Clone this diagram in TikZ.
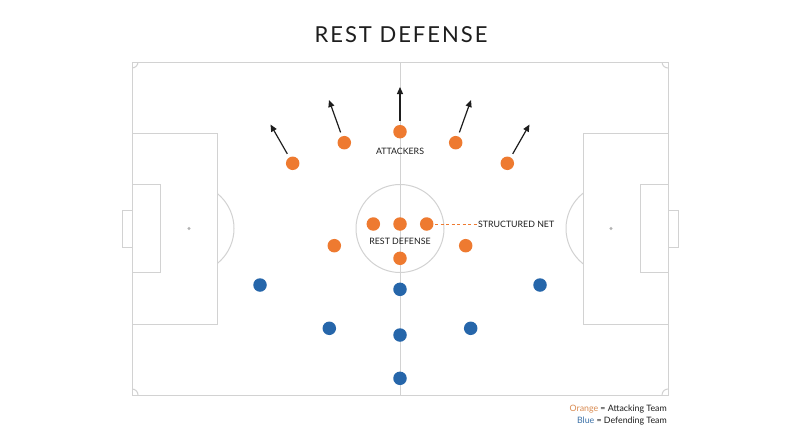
\documentclass[tikz,border=0pt]{standalone}
\usepackage{fontspec}
\setmainfont{Lato}
\newfontfamily\titlefont[LetterSpace=9]{Lato}
\usetikzlibrary{arrows.meta}
\definecolor{attack}{HTML}{EE7A30}
\definecolor{defend}{HTML}{2666AA}
\definecolor{pitch}{HTML}{D2D2D2}
\definecolor{ink}{HTML}{1E1E1E}
\definecolor{legorange}{HTML}{D98A50}
\definecolor{legblue}{HTML}{3D72A8}
\tikzset{
  line/.style={draw=pitch,line width=1pt},
  atk/.style={circle,fill=attack,minimum size=13.5pt,inner sep=0pt},
  dfn/.style={circle,fill=defend,minimum size=13.5pt,inner sep=0pt},
  run/.style={-{Triangle[length=7pt,width=6pt]},line width=1.2pt,draw=ink,shorten <=4pt},
  tag/.style={text=ink,font=\fontsize{8.8}{10}\selectfont,inner sep=0pt},
  legend/.style={text=ink,font=\fontsize{8.8}{10}\selectfont,inner sep=0pt,anchor=east}
}
\begin{document}
\begin{tikzpicture}[x=1pt,y=-1pt]
\useasboundingbox[fill=white] (0,0) rectangle (800,447);
\node[text=ink,font=\titlefont\fontsize{22}{26}\selectfont] (title) at (401,34.5) {REST DEFENSE};
\draw[line] (132,62) rectangle (668,395);
\draw[line] (400,62) -- (400,395);
\draw[line] (400,228.5) circle (44);
\draw[line] (132,133) rectangle (217,324);
\draw[line] (668,133) rectangle (583,324);
\draw[line] (132,184) rectangle (160,272);
\draw[line] (668,184) rectangle (640,272);
\draw[line] (132,210) rectangle (122,247);
\draw[line] (668,210) rectangle (678,247);
\begin{scope}
\clip (217,62) rectangle (300,395);
\draw[line] (189,228.5) circle (45);
\end{scope}
\begin{scope}
\clip (500,62) rectangle (583,395);
\draw[line] (611,228.5) circle (45);
\end{scope}
\begin{scope}
\clip (132,62) rectangle (668,395);
\draw[line] (132,62) circle (6);
\draw[line] (668,62) circle (6);
\draw[line] (132,395) circle (6);
\draw[line] (668,395) circle (6);
\end{scope}
\fill[pitch!85!black] (189,228.5) circle (1.7);
\fill[pitch!85!black] (611,228.5) circle (1.7);

\node[atk] (a1) at (292.7,163.3) {};
\node[atk] (a2) at (344.3,142.7) {};
\node[atk] (a3) at (400,131.7) {};
\node[atk] (a4) at (455.7,142.7) {};
\node[atk] (a5) at (507.3,163.3) {};
\coordinate (t1) at (270.5,124.5);
\coordinate (t2) at (329,100);
\coordinate (t3) at (400,87);
\coordinate (t4) at (471,100);
\coordinate (t5) at (529.5,124.5);
\draw[run] (a1) -- (t1);
\draw[run] (a2) -- (t2);
\draw[run] (a3) -- (t3);
\draw[run] (a4) -- (t4);
\draw[run] (a5) -- (t5);
\node[tag] (attackers) at (400,151) {ATTACKERS};

\node[atk] (n1) at (373.3,224) {};
\node[atk] (n2) at (400,224) {};
\node[atk] (n3) at (426.7,224) {};
\node[atk] (r1) at (334.3,245.7) {};
\node[atk] (r2) at (465.7,245.7) {};
\node[atk] (r3) at (400,258.3) {};
\node[tag] (rest) at (400,241.7) {REST DEFENSE};
\node[tag,anchor=west] (netlabel) at (478,224) {STRUCTURED NET};
\draw[attack,line width=0.8pt,dash pattern=on 3pt off 2.5pt,shorten <=1.5pt] (n3) -- (netlabel.west);

\node[dfn] (d1) at (260,285) {};
\node[dfn] (d2) at (400,289.3) {};
\node[dfn] (d3) at (540,285) {};
\node[dfn] (d4) at (329.3,328.3) {};
\node[dfn] (d5) at (400,335) {};
\node[dfn] (d6) at (470.7,328.3) {};
\node[dfn] (d7) at (400,378.3) {};

\node[legend] (leg1) at (667,409.3) {\textcolor{legorange}{Orange} = Attacking Team};
\node[legend] (leg2) at (667,421) {\textcolor{legblue}{Blue} = Defending Team};
\end{tikzpicture}
\end{document}
